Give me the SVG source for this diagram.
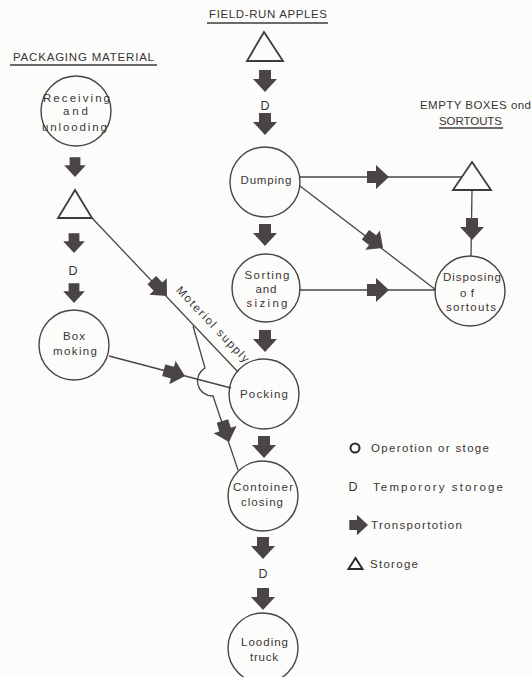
<svg xmlns="http://www.w3.org/2000/svg" xmlns:xlink="http://www.w3.org/1999/xlink" width="532" height="677" viewBox="0 0 532 677">
<style>
.bg{fill:#fcfcfa}
.op{fill:none;stroke:#4a4545;stroke-width:1.4}
.st{fill:none;stroke:#3f3a3a;stroke-width:1.8;stroke-linejoin:miter}
.ln{fill:none;stroke:#4a4545;stroke-width:1.3}
.ul{stroke:#3f3a3a;stroke-width:1.3}
.ar{fill:#4a4444}
text{font-family:"Liberation Sans",Arial,sans-serif;font-size:11.5px;fill:#3a3535;text-anchor:middle}
.hd{font-size:11.5px}
.lg{text-anchor:start}
.d{font-size:12.5px;fill:#3a3535}
</style>
<defs>
<path id="arr" d="M-6,-22 L6,-22 L6,-13 L12,-13 L0,0 L-12,-13 L-6,-13 Z"/>
</defs>
<rect class="bg" x="0" y="0" width="532" height="677"/>

<g id="titles">
<text class="hd" x="268" y="18" textLength="118" lengthAdjust="spacing">FIELD-RUN APPLES</text>
<line class="ul" x1="207" y1="23" x2="328" y2="23"/>
<text class="hd" x="83.5" y="61" textLength="141" lengthAdjust="spacing">PACKAGING MATERIAL</text>
<line class="ul" x1="10" y1="65" x2="157" y2="65"/>
<text class="hd" x="475.5" y="109" textLength="111" lengthAdjust="spacing">EMPTY BOXES ond</text>
<text class="hd" x="470.5" y="125" textLength="63" lengthAdjust="spacing">SORTOUTS</text>
<line class="ul" x1="439" y1="128" x2="503" y2="128"/>
</g>

<g id="connectors">
<path class="ln" d="M299,177 L462,177"/>
<path class="ln" d="M300,186 L436,290"/>
<path class="ln" d="M299,290 L435,290"/>
<path class="ln" d="M472,190 L471,256"/>
<path class="ln" d="M92,218 L238,372"/>
<path class="ln" d="M109,356 L231,388"/>
<path class="ln" d="M193,326 L205,368 A15,15 0 0 0 213,396 L238,470"/>
<g class="ar">
<use xlink:href="#arr" transform="translate(265,92)"/>
<use xlink:href="#arr" transform="translate(265,135)"/>
<use xlink:href="#arr" transform="translate(265,246)"/>
<use xlink:href="#arr" transform="translate(265,352)"/>
<use xlink:href="#arr" transform="translate(264,458)"/>
<use xlink:href="#arr" transform="translate(263,559)"/>
<use xlink:href="#arr" transform="translate(263,610)"/>
<use xlink:href="#arr" transform="translate(75,177) scale(0.9)"/>
<use xlink:href="#arr" transform="translate(74,253) scale(0.9)"/>
<use xlink:href="#arr" transform="translate(74,303) scale(0.9)"/>
<use xlink:href="#arr" transform="translate(389,177) rotate(-90)"/>
<use xlink:href="#arr" transform="translate(383,248) rotate(-52.8)"/>
<use xlink:href="#arr" transform="translate(389,290) rotate(-90)"/>
<use xlink:href="#arr" transform="translate(472,240)"/>
<use xlink:href="#arr" transform="translate(167,296) rotate(-43.6)"/>
<use xlink:href="#arr" transform="translate(185,376) rotate(-75)"/>
<use xlink:href="#arr" transform="translate(229,442) rotate(-17.4)"/>
</g>
<text x="210" y="327" font-size="11" textLength="100" lengthAdjust="spacing" transform="rotate(46.5 210 327)">Moteriol supply</text>
</g>

<g id="storage-field-run">
<path class="st" d="M264,32 L283,61 L247,61 Z"/>
</g>
<g id="temp-storage-1"><text class="d" x="265" y="110">D</text></g>
<g id="dumping">
<circle class="op" cx="265" cy="182" r="35"/>
<text x="266" y="184" textLength="51" lengthAdjust="spacing">Dumping</text>
</g>
<g id="sorting">
<circle class="op" cx="266" cy="288" r="34"/>
<text x="267" y="279" textLength="45" lengthAdjust="spacing">Sorting</text>
<text x="266" y="293" textLength="21" lengthAdjust="spacing">and</text>
<text x="267" y="307" textLength="41" lengthAdjust="spacing">sizing</text>
</g>
<g id="packing">
<circle class="op" cx="264" cy="394" r="35"/>
<text x="264" y="398" textLength="48" lengthAdjust="spacing">Pocking</text>
</g>
<g id="container-closing">
<circle class="op" cx="263" cy="496" r="35"/>
<text x="263" y="491" textLength="60" lengthAdjust="spacing">Contoiner</text>
<text x="262" y="506" textLength="42" lengthAdjust="spacing">closing</text>
</g>
<g id="temp-storage-3"><text class="d" x="263" y="578">D</text></g>
<g id="loading-truck">
<circle class="op" cx="263" cy="648" r="35"/>
<text x="264.5" y="646" textLength="47" lengthAdjust="spacing">Looding</text>
<text x="264" y="661" textLength="28" lengthAdjust="spacing">truck</text>
</g>

<g id="receiving">
<circle class="op" cx="76" cy="111" r="35"/>
<text x="76.5" y="102" textLength="67" lengthAdjust="spacing">Receiving</text>
<text x="75.5" y="115" textLength="25" lengthAdjust="spacing">and</text>
<text x="74.5" y="131" textLength="65" lengthAdjust="spacing">unlooding</text>
</g>
<g id="storage-packaging">
<path class="st" d="M75,190 L92,218 L58,218 Z"/>
</g>
<g id="temp-storage-2"><text class="d" x="73" y="275">D</text></g>
<g id="box-making">
<circle class="op" cx="74" cy="345" r="35"/>
<text x="74" y="340" textLength="22" lengthAdjust="spacing">Box</text>
<text x="75" y="355" textLength="44" lengthAdjust="spacing">moking</text>
</g>

<g id="storage-empty-boxes">
<path class="st" d="M472,162 L491,190 L453,190 Z"/>
</g>
<g id="disposing">
<circle class="op" cx="470" cy="291" r="35"/>
<text x="472" y="281" textLength="58" lengthAdjust="spacing">Disposing</text>
<text x="467" y="297" textLength="14" lengthAdjust="spacing">of</text>
<text x="471" y="311" textLength="50" lengthAdjust="spacing">sortouts</text>
</g>

<g id="legend">
<circle cx="355" cy="448" r="4.5" fill="none" stroke="#2f2a2a" stroke-width="2"/>
<text class="lg" x="371" y="452" textLength="118" lengthAdjust="spacing">Operotion or stoge</text>
<text class="d" x="353" y="491">D</text>
<text class="lg" x="373" y="491" textLength="130" lengthAdjust="spacing">Temporory storoge</text>
<use class="ar" xlink:href="#arr" transform="translate(368,525) rotate(-90) scale(0.85)"/>
<text class="lg" x="371" y="529" textLength="91" lengthAdjust="spacing">Tronsportotion</text>
<path d="M355.5,558 L362.5,569 L348.5,569 Z" fill="none" stroke="#2f2a2a" stroke-width="2"/>
<text class="lg" x="370" y="568" textLength="48" lengthAdjust="spacing">Storoge</text>
</g>
</svg>
